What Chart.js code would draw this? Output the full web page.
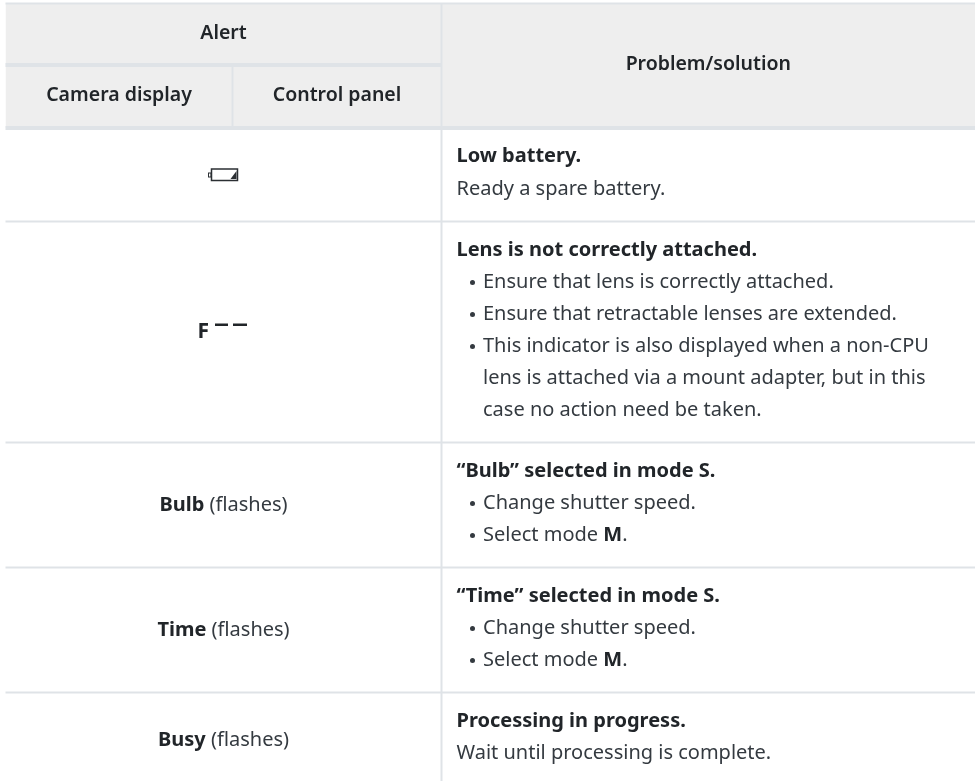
<!DOCTYPE html>
<html lang="en">
<head>
<meta charset="UTF-8">
<title>Alert table</title>
<script src="https://cdn.jsdelivr.net/npm/chart.js"></script>
<style>
  html, body { margin: 0; padding: 0; background: #fff; }
  #wrap { width: 976px; height: 781px; }
</style>
</head>
<body>
<div id="wrap"><canvas id="tableChart" width="976" height="781"></canvas></div>
<script>
// table contents
const headerTop = ['Alert', 'Problem/solution'];
const headerSub = ['Camera display', 'Control panel'];
const alertLabels = ['', '', '**Bulb** (flashes)', '**Time** (flashes)', '**Busy** (flashes)'];
const problemTitles = [
  'Low battery.',
  'Lens is not correctly attached.',
  '“Bulb” selected in mode S.',
  '“Time” selected in mode S.',
  'Processing in progress.'
];
const problemLines = [
  ['Ready a spare battery.'],
  ['• Ensure that lens is correctly attached.',
   '• Ensure that retractable lenses are extended.',
   '• This indicator is also displayed when a non-CPU',
   '  lens is attached via a mount adapter, but in this',
   '  case no action need be taken.'],
  ['• Change shutter speed.', '• Select mode **M**.'],
  ['• Change shutter speed.', '• Select mode **M**.'],
  ['Wait until processing is complete.']
];

// table rules, in page pixels
const tableX = [5.5, 975];
const columnX = [232.5, 441.5];
const headerY = [3.5, 65, 128];
const rowY = [221.5, 442.5, 567.5, 692.5];
const pageBottom = 781;

const ruleColor = '#dfe3e7';
const fillColor = '#eeeeee';
const inkBold = '#212529';
const ink = '#343a40';
const fontName = '"Noto Sans"';
const fontSize = 20;

function rule(x0, y0, x1, y1, width) {
  return {
    type: 'line',
    data: [{ x: x0, y: y0 }, { x: x1, y: y1 }],
    borderColor: ruleColor,
    borderWidth: width,
    pointRadius: 0,
    fill: false
  };
}

const datasets = [
  // header shading, order 1 keeps it under the rules
  {
    type: 'line',
    order: 1,
    data: [{ x: tableX[0], y: headerY[0] }, { x: tableX[1], y: headerY[0] }],
    borderWidth: 0,
    pointRadius: 0,
    backgroundColor: fillColor,
    fill: { target: { value: headerY[2] } }
  },
  rule(tableX[0], headerY[0], tableX[1], headerY[0], 2),
  rule(tableX[0], headerY[1], columnX[1], headerY[1], 4),
  rule(tableX[0], headerY[2], tableX[1], headerY[2], 4),
  rule(columnX[0], headerY[1], columnX[0], headerY[2], 2),
  rule(columnX[1], headerY[0], columnX[1], pageBottom, 2)
];
rowY.forEach(y => datasets.push(rule(tableX[0], y, tableX[1], y, 2)));

// **bold** markup to text runs
function runs(text) {
  return text.split('**').map((t, i) => ({ t, bold: i % 2 === 1 })).filter(r => r.t);
}
function setFont(ctx, bold) {
  ctx.font = (bold ? '700 ' : '400 ') + fontSize + 'px ' + fontName;
}
function runsWidth(ctx, list) {
  return list.reduce((sum, r) => { setFont(ctx, r.bold); return sum + ctx.measureText(r.t).width; }, 0);
}
function drawRuns(ctx, text, x, y, align, allBold) {
  const list = runs(text);
  if (allBold) list.forEach(r => r.bold = true);
  let cx = align === 'center' ? x - runsWidth(ctx, list) / 2 : x;
  ctx.textAlign = 'left';
  ctx.textBaseline = 'middle';
  list.forEach(r => {
    setFont(ctx, r.bold);
    ctx.fillStyle = r.bold ? inkBold : ink;
    ctx.fillText(r.t, cx, y);
    cx += ctx.measureText(r.t).width;
  });
}
function drawHeader(ctx, text, x, y) {
  ctx.font = '600 19.5px ' + fontName;
  ctx.textAlign = 'center';
  ctx.textBaseline = 'middle';
  ctx.fillStyle = inkBold;
  ctx.fillText(text, x, y);
}

const tableText = {
  id: 'tableText',
  afterDatasetsDraw(chart) {
    const { ctx, scales } = chart;
    const px = v => scales.x.getPixelForValue(v);
    const py = v => scales.y.getPixelForValue(v);
    const alertCx = px((tableX[0] + columnX[1]) / 2);
    const problemCx = px((columnX[1] + tableX[1]) / 2);
    ctx.save();

    drawHeader(ctx, headerTop[0], alertCx, py(33));
    drawHeader(ctx, headerTop[1], problemCx, py(64));
    drawHeader(ctx, headerSub[0], px((tableX[0] + columnX[0]) / 2), py(95.5));
    drawHeader(ctx, headerSub[1], px((columnX[0] + columnX[1]) / 2), py(95.5));

    const tops = [headerY[2]].concat(rowY);
    const bottoms = rowY.concat([pageBottom + 7]);
    problemTitles.forEach((title, i) => {
      const y0 = tops[i] + 28.5;
      drawRuns(ctx, title, px(456.5), py(y0), 'left', true);
      problemLines[i].forEach((line, j) => {
        const y = y0 + 32.5 + j * 32;
        if (line.startsWith('• ')) {
          ctx.fillStyle = ink;
          ctx.beginPath();
          ctx.arc(px(472.5), py(y), 2.5, 0, Math.PI * 2);
          ctx.fill();
          drawRuns(ctx, line.slice(2), px(483), py(y), 'left');
        } else if (line.startsWith('  ')) {
          drawRuns(ctx, line.slice(2), px(483), py(y), 'left');
        } else {
          drawRuns(ctx, line, px(456.5), py(y), 'left');
        }
      });
      if (alertLabels[i]) {
        drawRuns(ctx, alertLabels[i], alertCx, py((tops[i] + bottoms[i]) / 2), 'center');
      }
    });

    // battery symbol
    ctx.strokeStyle = '#2b2f33';
    ctx.lineWidth = 1.5;
    ctx.strokeRect(px(211.5), py(169), 26, 11.5);
    ctx.lineWidth = 1;
    ctx.strokeRect(px(208.5), py(173), 2.5, 4);
    ctx.fillStyle = '#2b2f33';
    ctx.beginPath();
    ctx.moveTo(px(230.5), py(179));
    ctx.lineTo(px(236.5), py(171));
    ctx.lineTo(px(236.5), py(179));
    ctx.closePath();
    ctx.fill();

    // F-- symbol
    ctx.font = '700 21px ' + fontName;
    ctx.textAlign = 'left';
    ctx.textBaseline = 'alphabetic';
    ctx.fillStyle = inkBold;
    ctx.fillText('F', px(197.5), py(338));
    ctx.fillRect(px(215), py(323.5), 13, 2.5);
    ctx.fillRect(px(233), py(323.5), 14, 2.5);

    ctx.restore();
  }
};

new Chart(document.getElementById('tableChart').getContext('2d'), {
  data: { datasets },
  plugins: [tableText],
  options: {
    responsive: false,
    animation: false,
    layout: { padding: 0 },
    scales: {
      x: { type: 'linear', min: 0, max: 976, display: false },
      y: { type: 'linear', min: 0, max: 781, reverse: true, display: false }
    },
    plugins: { legend: { display: false }, tooltip: { enabled: false } }
  }
});
</script>
</body>
</html>
